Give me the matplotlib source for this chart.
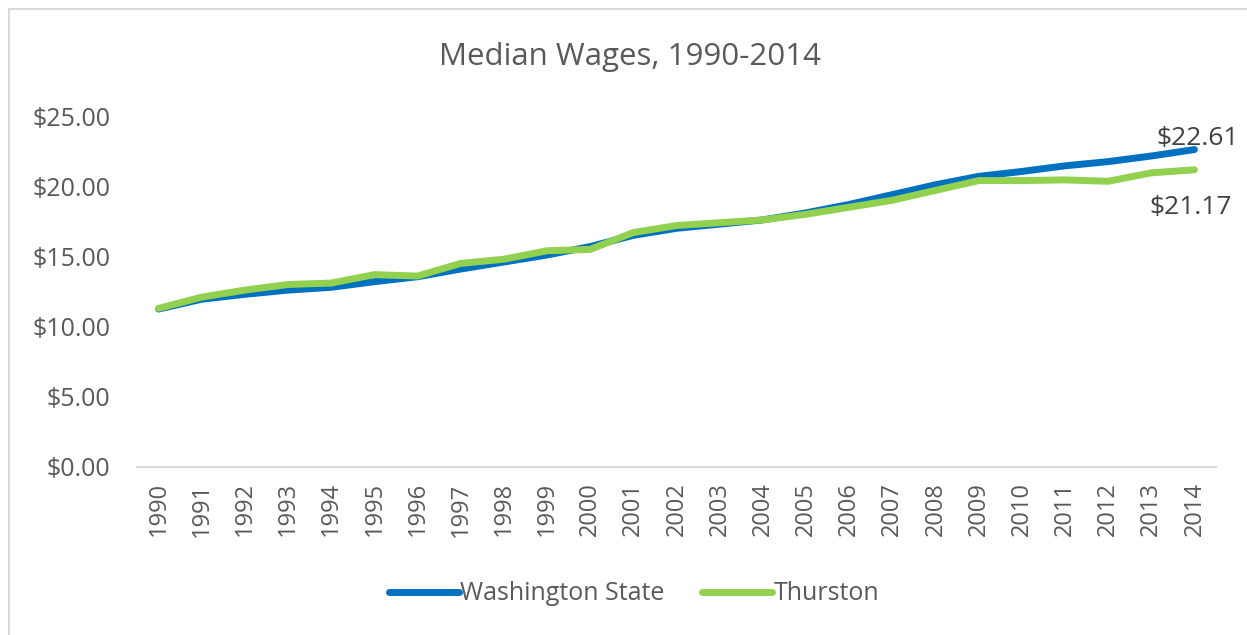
import matplotlib.pyplot as plt
from matplotlib.patches import Rectangle

years = list(range(1990, 2015))
washington = [11.25, 11.95, 12.3, 12.6, 12.8, 13.2, 13.55, 14.1, 14.6, 15.1, 15.7,
              16.5, 17.0, 17.3, 17.6, 18.1, 18.7, 19.4, 20.1, 20.7, 21.05, 21.45,
              21.75, 22.15, 22.61]
thurston = [11.3, 12.1, 12.6, 13.0, 13.1, 13.7, 13.6, 14.5, 14.8, 15.4, 15.5,
            16.7, 17.2, 17.4, 17.6, 18.0, 18.5, 19.0, 19.7, 20.4, 20.4, 20.45,
            20.35, 20.95, 21.17]
y_ticks = [0, 5, 10, 15, 20, 25]

plt.rcParams['font.family'] = ['Open Sans', 'DejaVu Sans']
grey = '#595959'

fig = plt.figure(figsize=(12.47, 6.35), dpi=100)
# light chart border (only top/left visible in the original)
fig.patches.append(Rectangle((9 / 1247, -0.1), 1.2, 1.1 - 9 / 635,
                             transform=fig.transFigure, fill=False,
                             edgecolor='#d9d9d9', linewidth=1.5))

ax = fig.add_axes([137 / 1247, 168 / 635, (1216 - 137) / 1247, (468 - 117) / 635])
x = list(range(len(years)))
ax.plot(x, washington, color='#0070c0', lw=5, solid_capstyle='round',
        solid_joinstyle='round', label='Washington State')
ax.plot(x, thurston, color='#92d050', lw=5, solid_capstyle='round',
        solid_joinstyle='round', label='Thurston')

ax.set_xlim(-0.5, len(years) - 0.5)
ax.set_ylim(0, 25)
ax.set_yticks(y_ticks)
ax.set_yticklabels(['${:.2f}'.format(v) for v in y_ticks])
ax.set_xticks(x)
ax.set_xticklabels([str(y) for y in years], rotation=90)
ax.tick_params(axis='y', length=0, colors=grey, labelsize=18, pad=19)
ax.tick_params(axis='x', length=0, colors=grey, labelsize=17, pad=11)
for s in ['top', 'right', 'left']:
    ax.spines[s].set_visible(False)
ax.spines['bottom'].set_color('#d9d9d9')
ax.spines['bottom'].set_linewidth(1.5)

ax.annotate('${:.2f}'.format(washington[-1]), (x[-1], washington[-1]),
            xytext=(2, -1), textcoords='offset points', ha='center', va='bottom',
            fontsize=19, color='#404040', annotation_clip=False)
ax.annotate('${:.2f}'.format(thurston[-1]), (x[-1], thurston[-1]),
            xytext=(-3, -18), textcoords='offset points', ha='center', va='top',
            fontsize=19, color='#404040', annotation_clip=False)

fig.text(630 / 1247, 1 - 57 / 635, 'Median Wages, 1990-2014', ha='center',
         va='center', fontsize=22.5, color=grey)

leg = fig.legend(loc='center', bbox_to_anchor=(634 / 1247, 1 - 594 / 635), ncol=2,
                 frameon=False, fontsize=18, handlelength=2.8, handletextpad=0.05,
                 columnspacing=1.5)
for t in leg.get_texts():
    t.set_color(grey)

fig.savefig('out.png', dpi=100)
